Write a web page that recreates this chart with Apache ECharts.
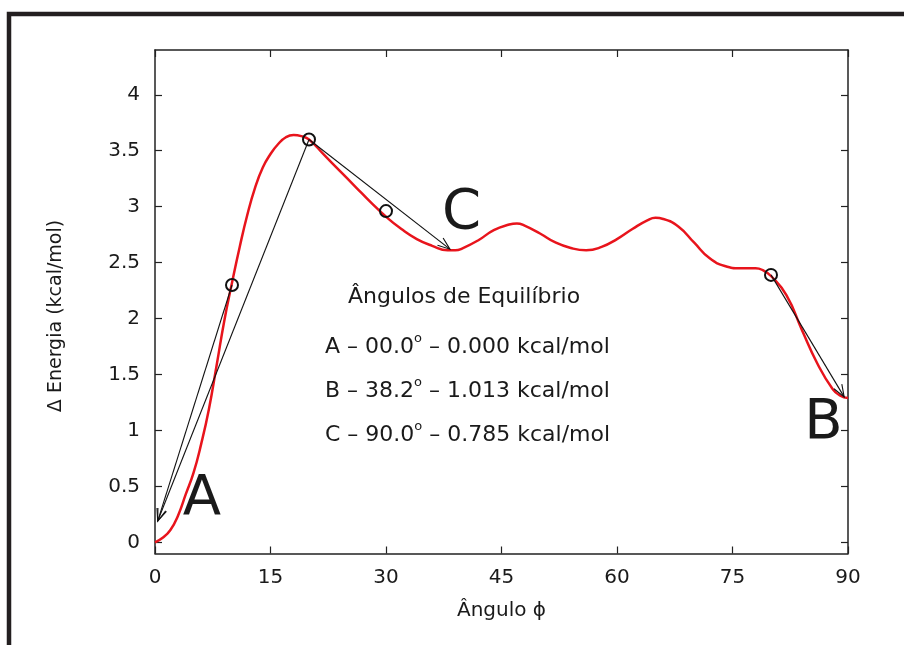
<!DOCTYPE html>
<html>
<head>
<meta charset="utf-8">
<script src="https://cdn.jsdelivr.net/npm/echarts@6/dist/echarts.min.js"></script>
<style>
  html, body { margin: 0; padding: 0; background: #fff; }
  #chart { width: 904px; height: 645px; }
</style>
</head>
<body>
<div id="chart"></div>
<script>
// energy profile
const angles = [0, 1, 2, 3, 4, 5, 6, 7, 8, 9, 10, 11, 12, 13, 14, 15, 16, 17, 18, 19, 20,
    22, 24, 26, 28, 30, 32, 34, 36, 38, 39, 40, 42, 44, 46, 47, 48, 50, 52, 54, 56, 58,
    60, 62, 64, 65, 66, 68, 70, 72, 74, 76, 78, 79, 80, 82, 84, 86, 88, 89, 90];
const energy = [0, 0.04, 0.11, 0.24, 0.43, 0.62, 0.88, 1.19, 1.58, 1.98, 2.32, 2.64, 2.93, 3.17, 3.35, 3.47, 3.56, 3.62, 3.64, 3.63, 3.60,
    3.46, 3.32, 3.18, 3.04, 2.91, 2.80, 2.71, 2.65, 2.61, 2.61, 2.63, 2.70, 2.79, 2.84, 2.85, 2.83, 2.76, 2.68, 2.63, 2.61, 2.64,
    2.71, 2.80, 2.88, 2.90, 2.89, 2.82, 2.68, 2.54, 2.47, 2.45, 2.45, 2.43, 2.38, 2.21, 1.90, 1.60, 1.37, 1.31, 1.29];

// open circles
const markAngles = [10, 20, 30, 80];
const markEnergy = [2.30, 3.60, 2.96, 2.39];

// arrows: start -> end
const arrowStart = [[10, 2.30], [20, 3.60], [20, 3.60], [80, 2.39]];
const arrowEnd = [[0.35, 0.19], [0.35, 0.19], [38.3, 2.62], [89.5, 1.30]];

// big letters
const letterNames = ['A', 'B', 'C'];
const letterX = [6.1, 86.8, 39.8];
const letterY = [0.38, 1.06, 2.94];

const xTicks = [0, 15, 30, 45, 60, 75, 90];
const yTicks = [0, 0.5, 1, 1.5, 2, 2.5, 3, 3.5, 4];

const legendTitle = 'Ângulos de Equilíbrio';
const legendLines = [
    ['A – 00.0', ' – 0.000 kcal/mol'],
    ['B – 38.2', ' – 1.013 kcal/mol'],
    ['C – 90.0', ' – 0.785 kcal/mol']
];

const font = 'DejaVu Sans';
const ink = '#1a1a1a';
const axisColor = '#222';

function makeX(pos, showLabel) {
    return {
        type: 'value', position: pos, min: 0, max: 90, interval: 15,
        axisLine: { show: true, onZero: false, lineStyle: { color: axisColor, width: 1.5 } },
        axisTick: { show: true, inside: true, length: 7, lineStyle: { color: axisColor, width: 1.2 } },
        axisLabel: { show: showLabel, margin: 14, fontSize: 20, color: ink, fontFamily: font },
        splitLine: { show: false },
        name: showLabel ? 'Ângulo ϕ' : '',
        nameLocation: 'middle', nameGap: 47,
        nameTextStyle: { fontSize: 20, color: ink, fontFamily: font }
    };
}

function makeY(pos, showLabel) {
    return {
        type: 'value', position: pos, min: -0.1, max: 4.4,
        axisLine: { show: true, onZero: false, lineStyle: { color: axisColor, width: 1.5 } },
        axisTick: { show: true, inside: true, length: 7, customValues: yTicks, lineStyle: { color: axisColor, width: 1.2 } },
        axisLabel: { show: showLabel, customValues: yTicks, margin: 15, fontSize: 20, color: ink, fontFamily: font,
            formatter: v => String(v) },
        splitLine: { show: false }
    };
}

// thin line with an open V head
function renderArrow(params, api) {
    const s = api.coord([api.value(0), api.value(1)]);
    const e = api.coord([api.value(2), api.value(3)]);
    const ang = Math.atan2(e[1] - s[1], e[0] - s[0]);
    const len = 13, spread = 0.36;
    const h1 = [e[0] - len * Math.cos(ang - spread), e[1] - len * Math.sin(ang - spread)];
    const h2 = [e[0] - len * Math.cos(ang + spread), e[1] - len * Math.sin(ang + spread)];
    const st = { stroke: '#111', lineWidth: 1.1, fill: null };
    return {
        type: 'group',
        children: [
            { type: 'line', shape: { x1: s[0], y1: s[1], x2: e[0], y2: e[1] }, style: st },
            { type: 'polyline', shape: { points: [h1, e, h2] }, style: st }
        ]
    };
}

const chart = echarts.init(document.getElementById('chart'), null, { renderer: 'canvas' });

const legendGraphics = [{
    type: 'text', left: 348, top: 286,
    style: { text: legendTitle, font: '22px "' + font + '"', fill: ink }
}];
legendLines.forEach((parts, i) => {
    legendGraphics.push({
        type: 'text', left: 325, top: 332 + i * 44,
        style: {
            text: '{a|' + parts[0] + '}{s|o}{a|' + parts[1] + '}',
            rich: {
                a: { fontSize: 22, fontFamily: font, fill: ink, lineHeight: 26, verticalAlign: 'bottom' },
                s: { fontSize: 13, fontFamily: font, fill: ink, lineHeight: 26, verticalAlign: 'top' }
            }
        }
    });
});

const option = {
    animation: false,
    backgroundColor: '#fff',
    grid: { left: 155, right: 56, top: 50, bottom: 91.5 },
    xAxis: [makeX('bottom', true), makeX('top', false)],
    yAxis: [makeY('left', true), makeY('right', false)],
    graphic: [
        {
            type: 'rect', shape: { x: 9, y: 14, width: 1000, height: 1000 },
            style: { fill: 'none', stroke: '#231f20', lineWidth: 4.5 }, z: 100
        },
        {
            type: 'text', x: 56, y: 316, rotation: Math.PI / 2,
            style: { text: 'Δ Energia (kcal/mol)', font: '19px "' + font + '"', fill: ink,
                align: 'center', verticalAlign: 'middle' }
        }
    ].concat(legendGraphics),
    series: [
        {
            type: 'line', data: angles.map((a, i) => [a, energy[i]]),
            smooth: 0.5, showSymbol: false,
            lineStyle: { color: '#e8141c', width: 2.5 }, z: 3
        },
        {
            type: 'custom', renderItem: renderArrow,
            encode: { x: [0, 2], y: [1, 3] },
            data: arrowStart.map((s, i) => [s[0], s[1], arrowEnd[i][0], arrowEnd[i][1]]),
            z: 4
        },
        {
            type: 'scatter', data: markAngles.map((a, i) => [a, markEnergy[i]]),
            symbol: 'circle', symbolSize: 12,
            itemStyle: { color: 'rgba(0,0,0,0)', borderColor: '#111', borderWidth: 2, opacity: 1 }, z: 5
        },
        {
            type: 'scatter', symbolSize: 0,
            itemStyle: { opacity: 1 },
            data: letterNames.map((n, i) => ({ name: n, value: [letterX[i], letterY[i]] })),
            label: { show: true, position: 'inside', formatter: '{b}', fontSize: 56,
                fontFamily: font, color: ink, opacity: 1 },
            z: 6
        }
    ]
};
chart.setOption(option);
</script>
</body>
</html>
